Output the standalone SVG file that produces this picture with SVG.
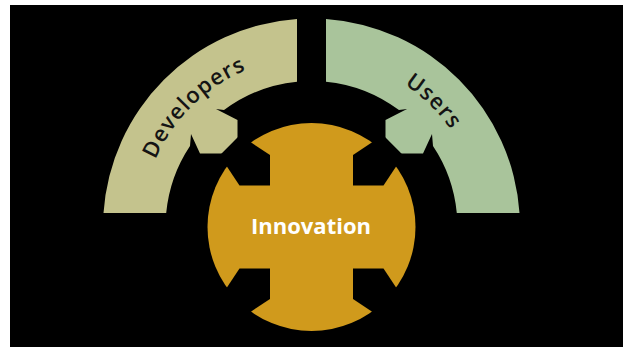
<svg xmlns="http://www.w3.org/2000/svg" width="623" height="347" viewBox="0 0 623 347">
  <style>
    .arclabel { font-family: "Open Sans", "Liberation Sans", sans-serif; font-weight: 600; font-size: 22px; fill: #141414; letter-spacing: 1.2px; }
    .center { font-family: "Open Sans", "Liberation Sans", sans-serif; font-weight: 700; font-size: 22px; fill: #ffffff; }
    .notch { fill: #000000; }
  </style>
  <defs>
    <path id="labelArc" d="M141.5,227 A170,170 0 0 1 481.5,227"/>
    <polygon id="notchShape" points="-41.5,-41.5 -41.5,-72 -71.5,-91.9 -91.9,-71.5 -72,-41.5"/>
  </defs>
  <rect x="0" y="0" width="623" height="347" fill="#ffffff"/>
  <rect x="10" y="5" width="613" height="342" fill="#000000"/>

  <g id="developers">
    <path d="M103.5,213 A208.5,208.5 0 0 1 297,19 L297,81.7 A146,146 0 0 0 224,110.1 L216,109 L237.5,120 L237.5,153.5 L200,153.5 L191,134 L190,146 A146,146 0 0 0 166.2,213 Z" fill="#c4c38d"/>
    <text class="arclabel" text-anchor="middle"><textPath href="#labelArc" startOffset="135">Developers</textPath></text>
  </g>

  <g id="users">
    <path d="M519.5,213 A208.5,208.5 0 0 0 326,19 L326,81.7 A146,146 0 0 1 399,110.1 L407,109 L385.5,120 L385.5,153.5 L423,153.5 L432,134 L433,146 A146,146 0 0 1 456.8,213 Z" fill="#a9c49b"/>
    <text class="arclabel" text-anchor="middle"><textPath href="#labelArc" startOffset="398">Users</textPath></text>
  </g>

  <g id="innovation">
    <circle cx="311.5" cy="227" r="104" fill="#d09a1c"/>
    <g transform="translate(311.5,227)">
      <use href="#notchShape" class="notch"/>
      <use href="#notchShape" class="notch" transform="scale(-1,1)"/>
      <use href="#notchShape" class="notch" transform="scale(1,-1)"/>
      <use href="#notchShape" class="notch" transform="scale(-1,-1)"/>
    </g>
    <text class="center" x="311" y="233.5" text-anchor="middle">Innovation</text>
  </g>

  <g id="connectors"/>
</svg>
